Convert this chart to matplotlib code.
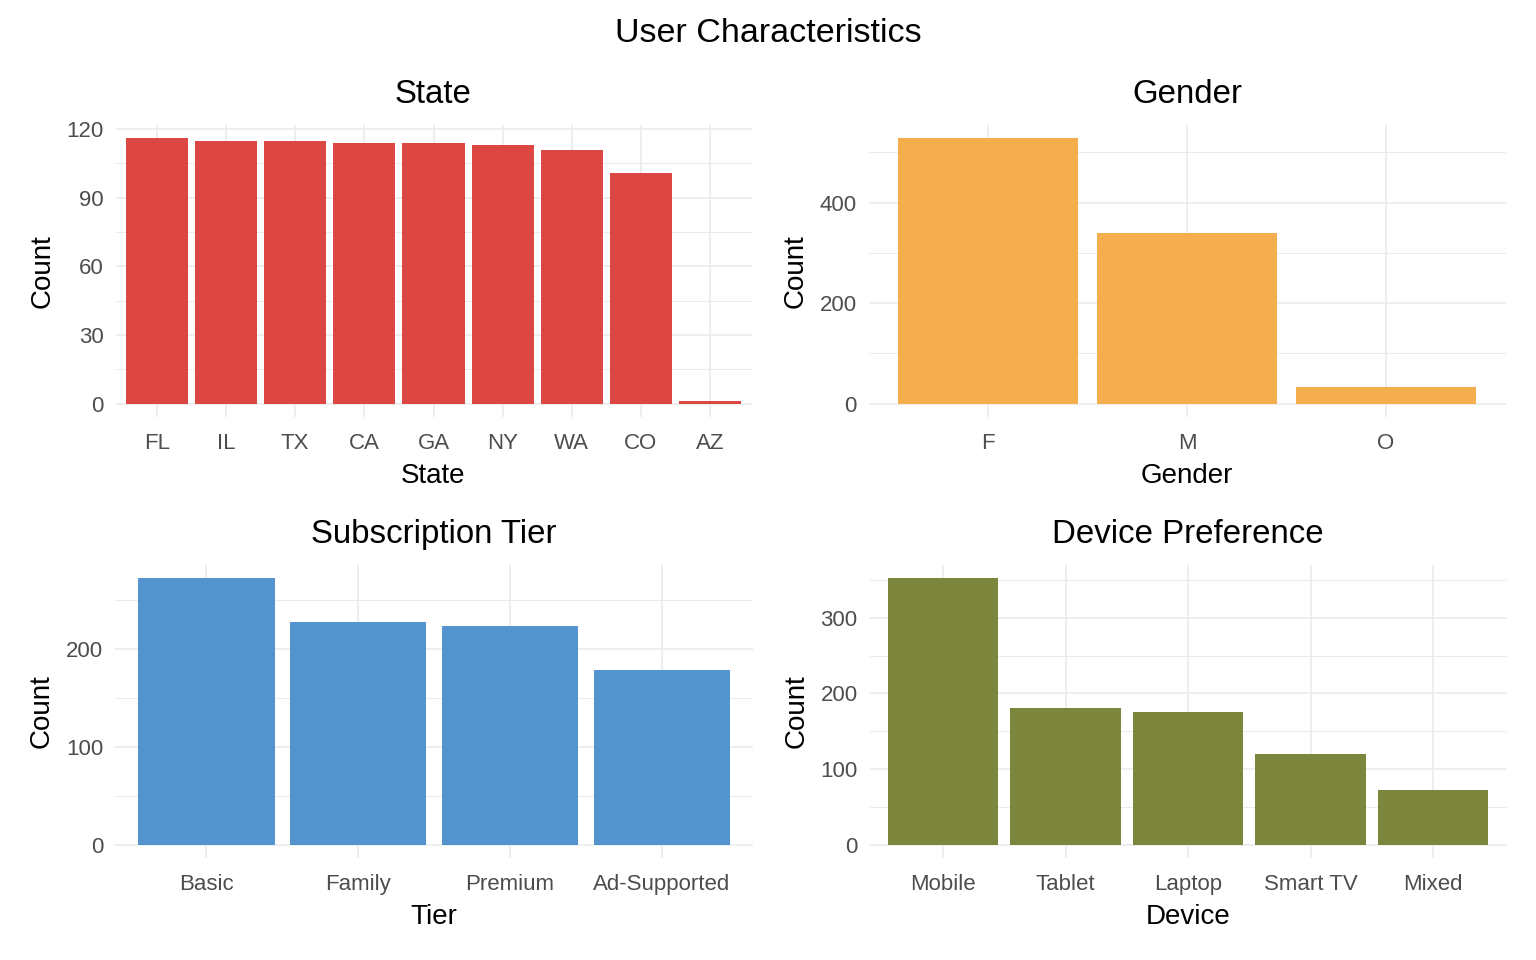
import matplotlib
matplotlib.use("Agg")
import matplotlib.pyplot as plt
import numpy as np

plt.rcParams['font.family'] = ['Liberation Sans', 'DejaVu Sans']

# ---- data ----
states = ["FL", "IL", "TX", "CA", "GA", "NY", "WA", "CO", "AZ"]
state_counts = [116, 115, 115, 114, 114, 113, 111, 101, 1]

genders = ["F", "M", "O"]
gender_counts = [528, 339, 33]

tiers = ["Basic", "Family", "Premium", "Ad-Supported"]
tier_counts = [272, 227, 223, 178]

devices = ["Mobile", "Tablet", "Laptop", "Smart TV", "Mixed"]
device_counts = [352, 180, 176, 120, 72]

state_ticks = [0, 30, 60, 90, 120]
gender_ticks = [0, 200, 400]
tier_ticks = [0, 100, 200]
device_ticks = [0, 100, 200, 300]

W, H = 1536, 960
fig = plt.figure(figsize=(W / 100, H / 100), dpi=100)

GRID = "#EBEBEB"
TICKC = "#4D4D4D"


def panel(rect_px, cats, vals, major, color, title, xlabel):
    x0, y0, x1, y1 = rect_px
    ax = fig.add_axes([x0 / W, 1 - y1 / H, (x1 - x0) / W, (y1 - y0) / H])
    n = len(cats)
    pos = np.arange(1, n + 1)
    ax.bar(pos, vals, width=0.9, color=color, zorder=3, linewidth=0)
    vmax = max(max(vals), 0)
    rng = vmax
    ax.set_ylim(-0.05 * rng, vmax + 0.05 * rng)
    ax.set_xlim(0.4, n + 0.6)
    ax.set_xticks(pos)
    ax.set_xticklabels(cats)
    ax.set_yticks(major)
    step = major[1] - major[0]
    minors = [m + step / 2 for m in [major[0] - step] + list(major)]
    minors = [m for m in minors if -0.05 * rng <= m <= vmax + 0.05 * rng]
    ax.set_yticks(minors, minor=True)
    ax.grid(True, which='major', axis='both', color=GRID, linewidth=1.2, zorder=0)
    ax.grid(True, which='minor', axis='y', color=GRID, linewidth=0.7, zorder=0)
    for s in ax.spines.values():
        s.set_visible(False)
    ax.tick_params(axis='both', which='both', length=0, labelsize=16, labelcolor=TICKC)
    ax.tick_params(axis='y', pad=8.5)
    ax.tick_params(axis='x', pad=11.5)
    ax.set_axisbelow(True)
    ax.set_title(title, fontsize=23.8, pad=15.5, color='black')
    ax.set_xlabel(xlabel, fontsize=20, color='black', va='center')
    ax.set_ylabel("Count", fontsize=20, color='black', va='center', ha='center')
    hpx = y1 - y0
    wpx = x1 - x0
    ax.xaxis.set_label_coords(0.5, -59 / hpx)
    ax.yaxis.set_label_coords(-73 / wpx, 0.5)
    return ax


panel((115.5, 125, 751.5, 417), states, state_counts, state_ticks, "#DC4744", "State", "State")
panel((868.5, 125, 1505.5, 417), genders, gender_counts, gender_ticks, "#F4AE4E", "Gender", "Gender")
panel((115, 565, 753, 858), tiers, tier_counts, tier_ticks, "#5394CF", "Subscription Tier", "Tier")
panel((869.5, 565, 1506.5, 858), devices, device_counts, device_ticks, "#7C873D", "Device Preference", "Device")

fig.text(768 / W, 1 - 30 / H, "User Characteristics", fontsize=24.5, ha='center', va='center_baseline')

fig.savefig("out.png", dpi=100, facecolor='white')
